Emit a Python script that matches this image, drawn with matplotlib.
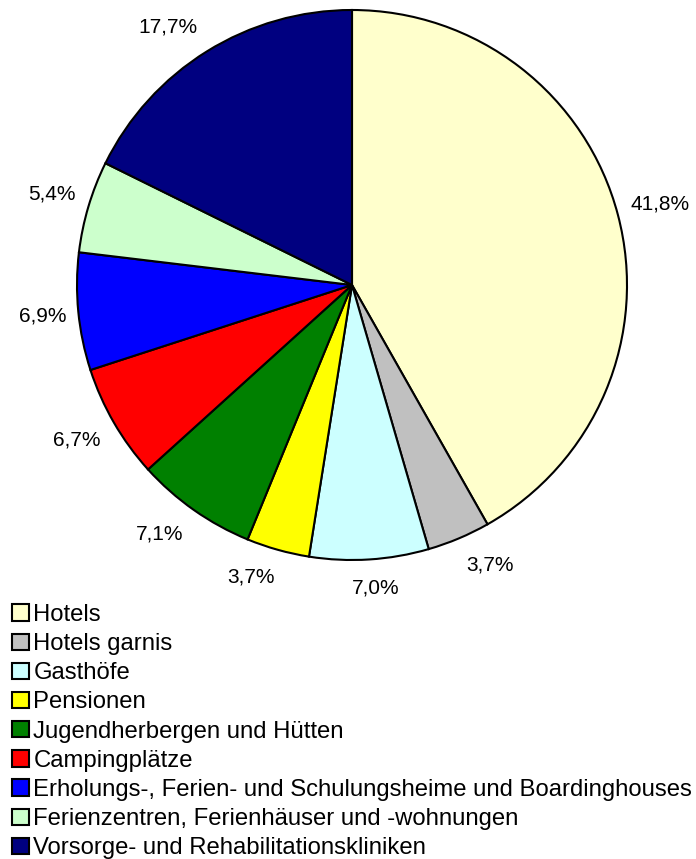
import numpy as np
import matplotlib.pyplot as plt
from matplotlib.patches import Patch

plt.rcParams['font.family'] = ['Liberation Sans', 'DejaVu Sans']

categories = ['Hotels', 'Hotels garnis', 'Gasthöfe', 'Pensionen',
              'Jugendherbergen und Hütten', 'Campingplätze',
              'Erholungs-, Ferien- und Schulungsheime und Boardinghouses',
              'Ferienzentren, Ferienhäuser und -wohnungen',
              'Vorsorge- und Rehabilitationskliniken']
shares = [41.8, 3.7, 7.0, 3.7, 7.1, 6.7, 6.9, 5.4, 17.7]
colors = ['#FFFFCC', '#C0C0C0', '#CCFFFF', '#FFFF00', '#008000',
          '#FF0000', '#0000FF', '#CCFFCC', '#000080']

W, H = 696, 859
fig = plt.figure(figsize=(W / 100, H / 100), dpi=100)

# pie centre ~ (352, 285) px, radius ~275 px
cx, cy, r = 352, 285, 275
ax = fig.add_axes([(cx - r) / W, (H - cy - r) / H, 2 * r / W, 2 * r / H])

wedges, texts, autotexts = ax.pie(
    shares, colors=colors, startangle=90, counterclock=False,
    autopct=lambda p: f"{p:.1f}%".replace('.', ','), pctdistance=1.15,
    wedgeprops=dict(edgecolor='black', linewidth=1.5),
    textprops=dict(fontsize=15))
ax.set_xlim(-1, 1)
ax.set_ylim(-1, 1)
ax.set_aspect('auto')
ax.axis('off')

# anchor each label's nearest corner just outside the rim (Excel-like)
fig.canvas.draw()
renderer = fig.canvas.get_renderer()
for w, t in zip(wedges, autotexts):
    ang = np.deg2rad((w.theta1 + w.theta2) / 2)
    c, s = np.cos(ang), np.sin(ang)
    bb = t.get_window_extent(renderer)
    d = 1 + (11 + 8 * abs(s)) / r
    x = d * c + np.clip(c / 0.3, -1, 1) * bb.width / 2 / r
    y = d * s + np.clip(s / 0.3, -1, 1) * bb.height / 2 / r
    t.set_position((x, y))

handles = [Patch(facecolor=c, edgecolor='black', linewidth=1.5) for c in colors]
fig.legend(handles, categories, loc='upper left',
           bbox_to_anchor=(0.0177, 1 - 604 / H), frameon=False,
           fontsize=17.2, handlelength=0.68, handleheight=0.68,
           handletextpad=0.2, labelspacing=0.3, borderaxespad=0,
           borderpad=0)

fig.savefig('out.png', dpi=100)
